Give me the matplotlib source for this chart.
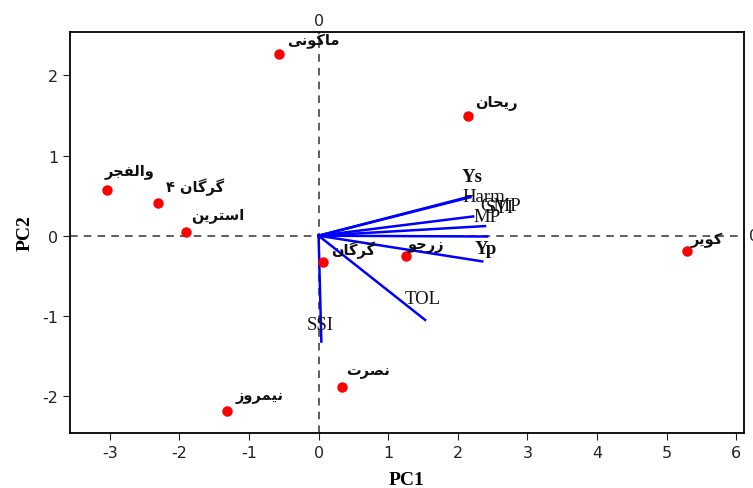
import matplotlib
matplotlib.use('Agg')
import matplotlib.pyplot as plt

plt.rcParams['axes.unicode_minus'] = False

# genotype scores (PC1, PC2)
genotypes = ['ماکونی', 'ریحان', 'والفجر', 'گرگان ۴', 'استرین',
             'گرگان', 'زرجو', 'کویر', 'نصرت', 'نیمروز']
pc1 = [-0.57, 2.14, -3.04, -2.30, -1.91, 0.07, 1.25, 5.29, 0.33, -1.31]
pc2 = [2.27, 1.49, 0.57, 0.41, 0.04, -0.33, -0.25, -0.19, -1.89, -2.19]

# trait loadings (scaled)
traits = ['Ys', 'Harm', 'GMP', 'STI', 'MP', 'Yp', 'TOL', 'SSI']
load1 = [2.18, 2.18, 2.22, 2.39, 2.42, 2.35, 1.53, 0.04]
load2 = [0.49, 0.48, 0.24, 0.12, -0.01, -0.32, -1.05, -1.32]

# label offsets in pixels
geno_off = [(8, 6), (8, 6), (-2, 12), (8, 8), (6, 10), (8, 4), (2, 4), (4, 4), (5, 9), (8, 8)]
trait_off = [(2, 20), (13, 1), (27, 11), (15, 19), (0, 20), (4, 13), (-2, 21), (-1, 17)]
bold_traits = ['Ys', 'Yp']

# minimal arabic/persian shaping (matplotlib has no complex text layout)
forms = {
    'ا': ('\uFE8D', '\uFE8E', None, None),
    'ت': ('\uFE95', '\uFE96', '\uFE97', '\uFE98'),
    'ج': ('\uFE9D', '\uFE9E', '\uFE9F', '\uFEA0'),
    'ح': ('\uFEA1', '\uFEA2', '\uFEA3', '\uFEA4'),
    'ر': ('\uFEAD', '\uFEAE', None, None),
    'ز': ('\uFEAF', '\uFEB0', None, None),
    'س': ('\uFEB1', '\uFEB2', '\uFEB3', '\uFEB4'),
    'ص': ('\uFEB9', '\uFEBA', '\uFEBB', '\uFEBC'),
    'ف': ('\uFED1', '\uFED2', '\uFED3', '\uFED4'),
    'ل': ('\uFEDD', '\uFEDE', '\uFEDF', '\uFEE0'),
    'م': ('\uFEE1', '\uFEE2', '\uFEE3', '\uFEE4'),
    'ن': ('\uFEE5', '\uFEE6', '\uFEE7', '\uFEE8'),
    'و': ('\uFEED', '\uFEEE', None, None),
    'ی': ('\uFBFC', '\uFBFD', '\uFBFE', '\uFBFF'),
    'ک': ('\uFB8E', '\uFB8F', '\uFB90', '\uFB91'),
    'گ': ('\uFB92', '\uFB93', '\uFB94', '\uFB95'),
}


def shape(word):
    out = []
    for i, ch in enumerate(word):
        if ch not in forms:
            out.append(ch)
            continue
        prev = word[i - 1] if i > 0 else ''
        nxt = word[i + 1] if i + 1 < len(word) else ''
        join_prev = prev in forms and forms[prev][2] is not None
        join_next = nxt in forms and forms[ch][2] is not None
        iso, fin, ini, med = forms[ch]
        if join_prev and join_next:
            out.append(med)
        elif join_prev:
            out.append(fin)
        elif join_next:
            out.append(ini)
        else:
            out.append(iso)
    return ''.join(out[::-1])


fig = plt.figure(figsize=(7.53, 4.89), dpi=100)
ax = fig.add_axes([0.093, 0.1125, 0.895, 0.82])

ax.axhline(0, color='#333333', ls=(0, (5, 4)), lw=1.1, zorder=1)
ax.axvline(0, color='#333333', ls=(0, (5, 4)), lw=1.1, zorder=1)

for x, y in zip(load1, load2):
    ax.plot([0, x], [0, y], color='#0000ff', lw=1.8, zorder=2)
for name, x, y, off in zip(traits, load1, load2, trait_off):
    w = 'bold' if name in bold_traits else 'normal'
    ax.annotate(name, (x, y), xytext=off, textcoords='offset pixels',
                ha='center', va='center', fontsize=13.5, fontweight=w,
                family='Liberation Serif', color='#111111', zorder=4)

ax.plot(pc1, pc2, 'o', color='#ff0000', ms=6.5, zorder=3)
for name, x, y, off in zip(genotypes, pc1, pc2, geno_off):
    ax.annotate(shape(name), (x, y), xytext=off, textcoords='offset pixels',
                ha='left', va='bottom', fontsize=10.5, fontweight='bold',
                family='DejaVu Sans', color='#111111', zorder=4)

ax.set_xlim(-3.57, 6.11)
ax.set_ylim(-2.46, 2.54)
ax.set_xticks(range(-3, 7))
ax.set_yticks(range(-2, 3))
ax.tick_params(labelsize=11.5, length=5, colors='#222222')
for s in ax.spines.values():
    s.set_linewidth(1.3)

ax.text(0, 1.01, '0', transform=ax.get_xaxis_transform(), ha='center', va='bottom',
        fontsize=11.5, color='#222222')
ax.text(1.007, 0, '0', transform=ax.get_yaxis_transform(), ha='left', va='center',
        fontsize=11.5, color='#222222')

ax.set_xlabel('PC1', fontsize=14, fontweight='bold', family='Liberation Serif', labelpad=8)
ax.set_ylabel('PC2', fontsize=14, fontweight='bold', family='Liberation Serif', labelpad=6)

fig.savefig('out.png', dpi=100)
